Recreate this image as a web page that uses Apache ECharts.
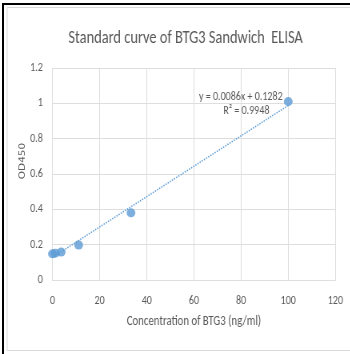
<!DOCTYPE html>
<html>
<head>
<meta charset="utf-8">
<script src="https://cdn.jsdelivr.net/npm/echarts@6/dist/echarts.min.js"></script>
<style>
  html, body { margin: 0; padding: 0; background: #fff; overflow: hidden; }
  /* the reference is squeezed sideways, so the chart is drawn wider and scaled back */
  #chart { width: 437.5px; height: 354px; transform: scaleX(0.8); transform-origin: 0 0; }
</style>
</head>
<body>
<div id="chart"></div>
<script>
// standard concentrations (ng/ml) and measured OD450
const concentrations = [0, 1.23, 3.7, 11.1, 33.3, 100];
const od450 = [0.148, 0.152, 0.158, 0.198, 0.38, 1.01];
// linear trendline end points
const trendX = [0, 100];
const trendY = [0.128, 0.988];
const xTicks = [0, 20, 40, 60, 80, 100, 120];
const yTicks = [0, 0.2, 0.4, 0.6, 0.8, 1, 1.2];

const font = "Carlito, 'Liberation Sans Narrow', sans-serif";
const textColor = "#595959";
const gridColor = "#dedede";

const chart = echarts.init(document.getElementById("chart"));

const option = {
  backgroundColor: "#fff",
  animation: false,
  title: {
    text: "Standard curve of BTG3 Sandwich  ELISA",
    left: 227,
    textAlign: "center",
    top: 24,
    textStyle: { color: textColor, fontFamily: font, fontSize: 18, fontWeight: "normal" },
  },
  grid: { left: 65.6, right: 18.75, top: 68, bottom: 74 },
  xAxis: {
    type: "value",
    min: xTicks[0],
    max: xTicks[xTicks.length - 1],
    interval: 20,
    name: "Concentration of BTG3 (ng/ml)",
    nameLocation: "middle",
    nameGap: 35,
    nameTextStyle: { color: textColor, fontFamily: font, fontSize: 13.5 },
    axisLine: { show: true, lineStyle: { color: gridColor } },
    axisTick: { show: false },
    axisLabel: { color: textColor, fontFamily: font, fontSize: 12.5, margin: 14 },
    splitLine: { show: true, lineStyle: { color: gridColor } },
  },
  yAxis: {
    type: "value",
    min: yTicks[0],
    max: yTicks[yTicks.length - 1],
    interval: 0.2,
    axisLine: { show: false },
    axisTick: { show: false },
    axisLabel: { color: textColor, fontFamily: font, fontSize: 12.5, margin: 12 },
    splitLine: { show: true, lineStyle: { color: gridColor } },
  },
  graphic: [
    {
      type: "rect",
      shape: { x: 9, y: 7.5, width: 440, height: 343 },
      style: { fill: "none", stroke: "#d9d9d9", lineWidth: 1 },
      z: -1,
    },
    {
      type: "text",
      x: 28,
      y: 161,
      rotation: Math.PI / 2,
      style: {
        text: "OD450",
        fill: textColor,
        font: "10.5px 'DejaVu Sans', sans-serif",
        align: "center",
        verticalAlign: "middle",
      },
    },
    {
      type: "text",
      x: 301,
      y: 97,
      style: {
        text: "y = 0.0086x + 0.1282",
        fill: textColor,
        font: "12.5px " + font,
        align: "center",
        verticalAlign: "middle",
      },
    },
    {
      type: "text",
      x: 308,
      y: 111,
      style: {
        text: "R² = 0.9948",
        fill: textColor,
        font: "12.5px " + font,
        align: "center",
        verticalAlign: "middle",
      },
    },
  ],
  series: [
    {
      type: "line",
      data: trendX.map((x, i) => [x, trendY[i]]),
      symbol: "none",
      lineStyle: { color: "#5b9bd5", width: 1.5, type: [1.5, 1.5] },
      z: 1,
    },
    {
      type: "scatter",
      data: concentrations.map((x, i) => [x, od450[i]]),
      symbol: "circle",
      symbolSize: [11, 9],
      itemStyle: { color: "#5b9bd5" },
      z: 3,
    },
  ],
};

chart.setOption(option);
</script>
<div style="position:absolute;left:2px;top:3px;width:360px;height:360px;border-left:2px solid #000;border-top:2px solid #000;pointer-events:none;"></div>
</body>
</html>
